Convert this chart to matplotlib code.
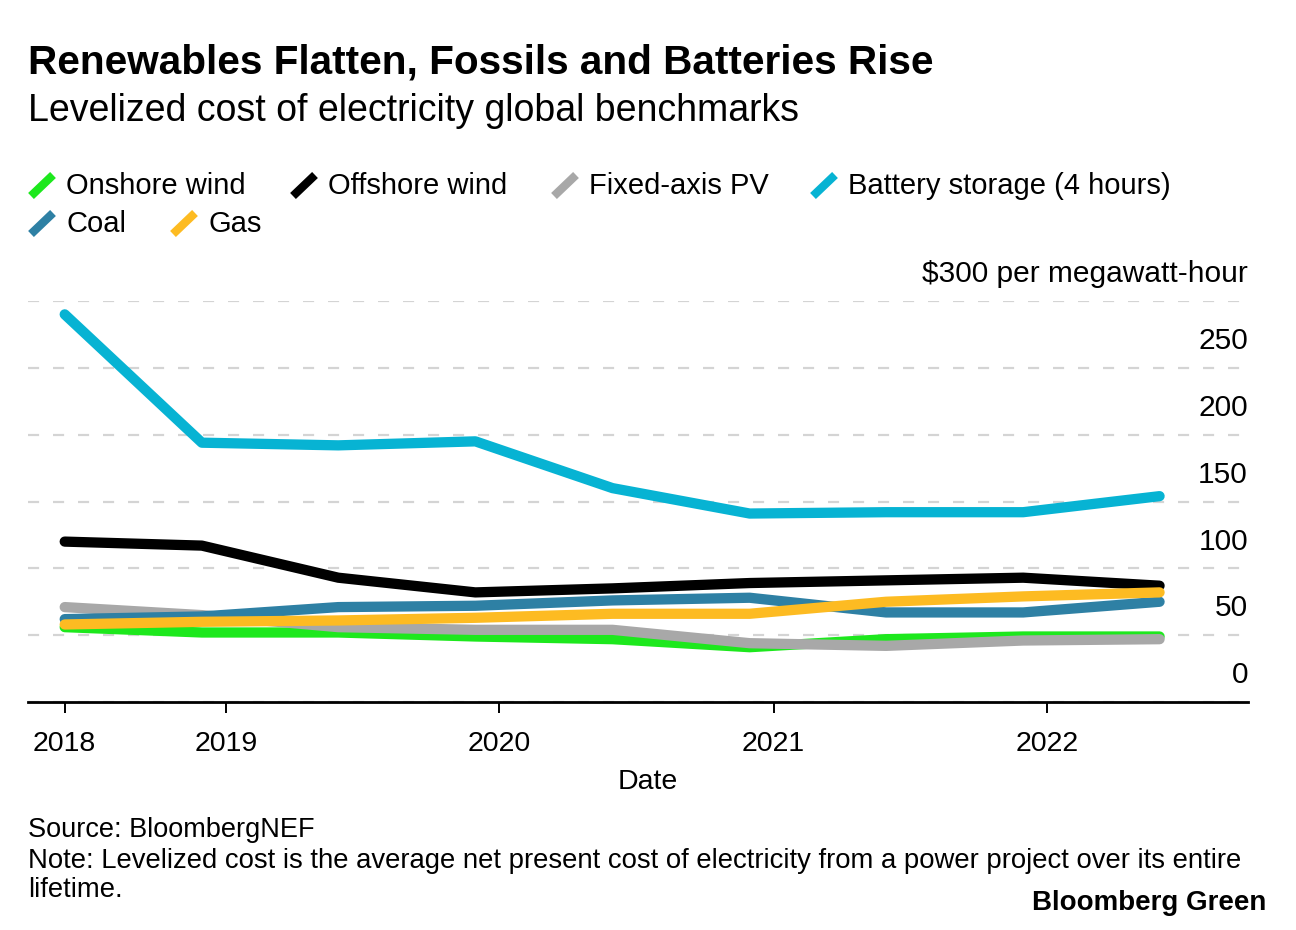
import datetime as dt
import matplotlib
matplotlib.use("Agg")
import matplotlib.pyplot as plt
from matplotlib.lines import Line2D

plt.rcParams["font.family"] = ["Liberation Sans", "DejaVu Sans"]
plt.rcParams["lines.scale_dashes"] = False

# LCOE benchmarks, $/MWh
dates = ["2018-05-31", "2018-11-30", "2019-05-31", "2019-11-30", "2020-05-31",
         "2020-11-30", "2021-05-31", "2021-11-30", "2022-05-31"]
onshore = [56, 52, 52, 49, 47, 41, 47, 49, 49]
offshore = [120, 117, 93, 82, 85, 89, 91, 93, 87]
fixed_pv = [71, 65, 56, 54, 54, 44, 42, 46, 47]
battery = [290, 194, 192, 195, 160, 141, 142, 142, 154]
coal = [62, 64, 71, 72, 76, 78, 67, 67, 75]
gas = [58, 60, 61, 63, 66, 66, 75, 79, 82]

series_names = ["Onshore wind", "Offshore wind", "Fixed-axis PV",
                "Battery storage (4 hours)", "Coal", "Gas"]
series_vals = [onshore, offshore, fixed_pv, battery, coal, gas]
colors = ["#1de81d", "#000000", "#a8a8a8", "#07b3d3", "#2e80a4", "#fdbb22"]

yticks = [0, 50, 100, 150, 200, 250, 300]
ytick_labels = ["0", "50", "100", "150", "200", "250", "$300 per megawatt-hour"]
xtick_dates = ["2018-05-31", "2019-01-01", "2020-01-01", "2021-01-01", "2022-01-01"]
xtick_labels = ["2018", "2019", "2020", "2021", "2022"]

W, H = 1296, 930
fig = plt.figure(figsize=(W / 100, H / 100), dpi=100)
ax = fig.add_axes([28 / W, 1 - 702 / H, (1248 - 28) / W, (702 - 301) / H])

x = [dt.datetime.strptime(d, "%Y-%m-%d") for d in dates]
for name, vals, c in zip(series_names, series_vals, colors):
    ax.plot(x, vals, color=c, lw=7.4, solid_capstyle="round",
            solid_joinstyle="round", zorder=3)

ax.set_xlim(dt.datetime(2018, 4, 12), dt.datetime(2022, 9, 26))
ax.set_ylim(0, 300)
ax.set_yticks(yticks)
ax.yaxis.grid(True, color="#d4d4d4", lw=1.6, linestyle=(0, (8, 10)))
ax.tick_params(axis="y", length=0, labelleft=False)
for v, lab in zip(yticks, ytick_labels):
    ax.annotate(lab, xy=(1.0, v), xycoords=("axes fraction", "data"),
                xytext=(0, 13.5), textcoords="offset points",
                ha="right", va="baseline", fontsize=21.5)

ax.set_xticks([dt.datetime.strptime(d, "%Y-%m-%d") for d in xtick_dates])
ax.set_xticklabels(xtick_labels, fontsize=20.5)
ax.tick_params(axis="x", direction="out", length=8, width=1.4, pad=13)
ax.set_xlabel("Date", fontsize=20.5)
ax.xaxis.set_label_coords(0.508, -0.167)

for s in ["top", "left", "right"]:
    ax.spines[s].set_visible(False)
ax.spines["bottom"].set_linewidth(2.0)
ax.set_axisbelow(True)

# title block
fig.text(28 / W, 1 - 62 / H, "Renewables Flatten, Fossils and Batteries Rise",
         fontsize=29.2, fontweight="bold", va="center", ha="left")
fig.text(28 / W, 1 - 111 / H, "Levelized cost of electricity global benchmarks",
         fontsize=27, va="center", ha="left")

# legend (flow layout like the original)
leg_pos = [(30, 186), (292, 186), (553, 186), (812, 186), (30, 224), (172, 224)]
for (px, py), name, c in zip(leg_pos, series_names, colors):
    fig.add_artist(Line2D([(px + 1) / W, (px + 23) / W],
                          [1 - (py + 10) / H, 1 - (py - 11) / H],
                          color=c, lw=6.0, solid_capstyle="butt"))
    fig.text((px + 36) / W, 1 - py / H, name, fontsize=21,
             va="center", ha="left")

# footer
fig.text(28 / W, 1 - 830 / H, "Source: BloombergNEF", fontsize=19.5,
         va="center", ha="left")
fig.text(28 / W, 1 - 861 / H,
         "Note: Levelized cost is the average net present cost of electricity "
         "from a power project over its entire", fontsize=19.8,
         va="center", ha="left")
fig.text(28 / W, 1 - 890 / H, "lifetime.", fontsize=19.8, va="center", ha="left")
fig.text(1266 / W, 1 - 903 / H, "Bloomberg Green", fontsize=20,
         fontweight="bold", va="center", ha="right")

fig.savefig("out.png", dpi=100)
